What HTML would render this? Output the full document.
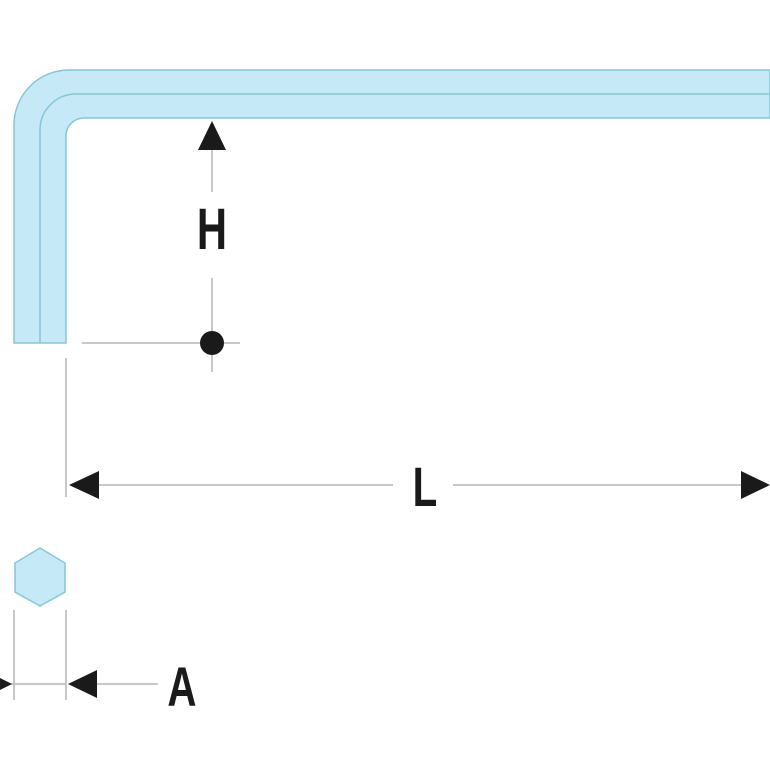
<!DOCTYPE html>
<html><head><meta charset="utf-8"><style>
html,body{margin:0;padding:0;background:#fff;width:770px;height:770px;overflow:hidden}
svg{display:block}
text{font-family:"Liberation Sans Narrow","Liberation Sans",sans-serif;font-weight:bold;fill:#1a1a1a}
</style></head><body>
<svg width="770" height="770" viewBox="0 0 770 770" xmlns="http://www.w3.org/2000/svg">
<path d="M14,343 V125 A55,55 0 0 1 69,70 H770 V118 H84 A18,18 0 0 0 66,136 V343 Z" fill="#c6e9f8" stroke="#86c6d8" stroke-width="1.5"/>
<path d="M40,343 V130 A36,36 0 0 1 76,94 H770" fill="none" stroke="#86c6d8" stroke-width="1.5"/>
<g stroke="#b5b5b5" stroke-width="1.5">
<line x1="212" y1="150" x2="212" y2="192"/>
<line x1="212" y1="278" x2="212" y2="372"/>
<line x1="82" y1="343" x2="240" y2="343"/>
<line x1="66" y1="358" x2="66" y2="497"/>
<line x1="98" y1="485" x2="393" y2="485"/>
<line x1="453" y1="485" x2="745" y2="485"/>
<line x1="14" y1="610" x2="14" y2="700"/>
<line x1="66" y1="610" x2="66" y2="700"/>
<line x1="0" y1="684" x2="66" y2="684"/>
<line x1="97" y1="684" x2="158" y2="684"/>
</g>
<g fill="#1a1a1a">
<polygon points="212,121 198,150 226,150"/>
<circle cx="212" cy="343" r="12"/>
<polygon points="69,485 99,471 99,499"/>
<polygon points="770,485 741,471 741,499"/>
<polygon points="68,684 97,670 97,698"/>
<polygon points="12,684 -16,670 -16,698"/>
</g>
<polygon points="40,548 65,563 65,592 40,606 15,592 15,563" fill="#c6e9f8" stroke="#86c6d8" stroke-width="1.5"/>
<text x="212" y="249" font-size="58" text-anchor="middle" transform="translate(212,0) scale(0.72,1) translate(-212,0)">H</text>
<text x="425" y="506" font-size="56" text-anchor="middle" transform="translate(425,0) scale(0.72,1) translate(-425,0)">L</text>
<text x="182" y="706" font-size="56" text-anchor="middle" transform="translate(182,0) scale(0.72,1) translate(-182,0)">A</text>
</svg>
</body></html>
